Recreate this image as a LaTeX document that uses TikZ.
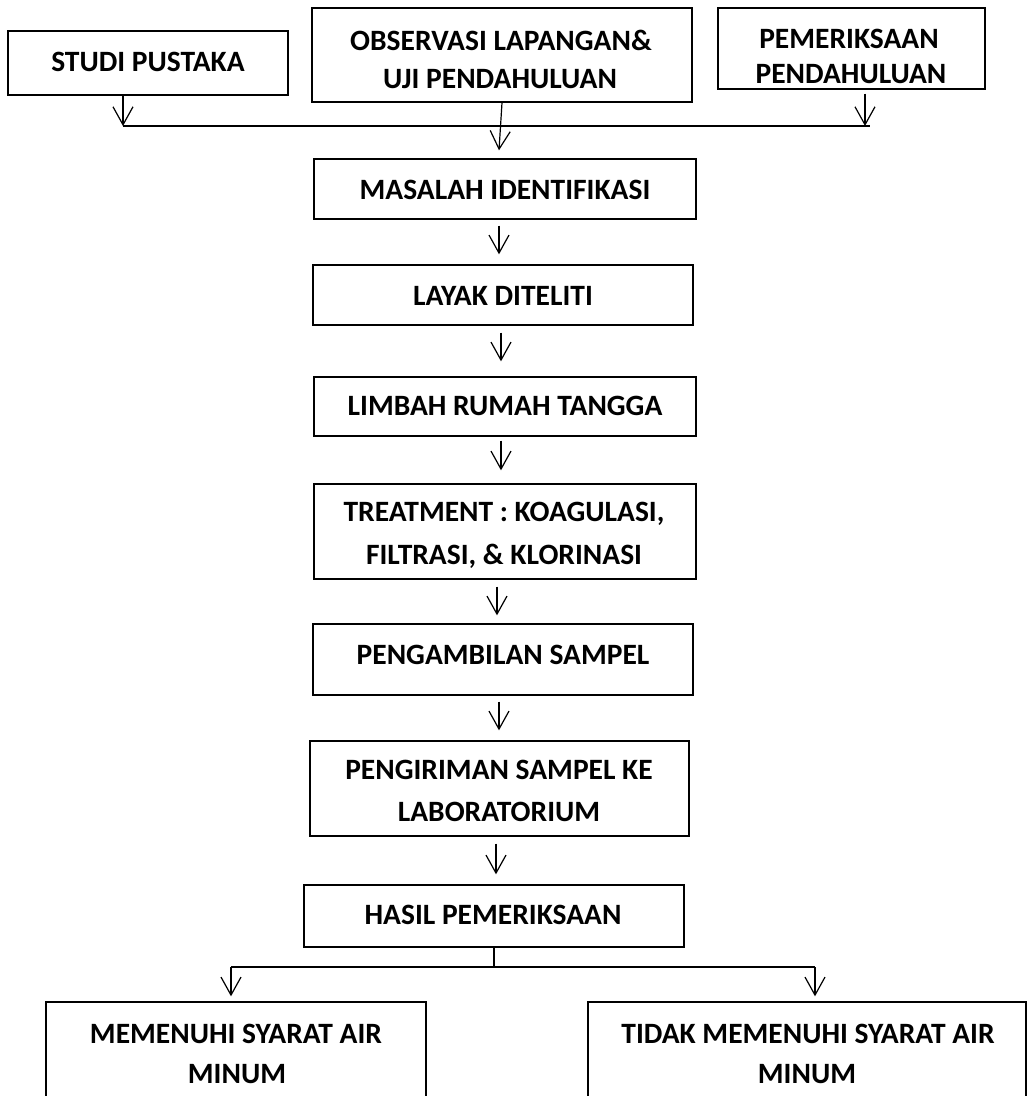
\documentclass[tikz,border=0pt]{standalone}
\usepackage{fontspec}
\setmainfont{Carlito}
\usetikzlibrary{arrows.meta}
\begin{document}
\begin{tikzpicture}[x=1pt,y=-1pt,
  box/.style={draw, line width=1.4pt, inner sep=0pt, rectangle},
  lbl/.style={anchor=base, inner sep=0pt, font=\fontsize{29.5}{35}\selectfont\bfseries},
  arr/.style={line width=1.2pt, -{Straight Barb[length=18pt,width=20pt,line width=1.2pt]}},
  bar/.style={line width=2.8pt},
  bar2/.style={line width=1.8pt}]
\useasboundingbox (0,0) rectangle (1033,1096);
\clip (0,0) rectangle (1033,1096);
\fill[white] (0,0) rectangle (1033,1096);
% boxes
\node[box, minimum width=280pt, minimum height=64pt] (studi) at (148,63) {};
\node[box, minimum width=380pt, minimum height=94pt] (obs) at (502,55) {};
\node[box, minimum width=267pt, minimum height=81pt] (pem) at (851.5,48.5) {};
\node[box, minimum width=382pt, minimum height=60pt] (masalah) at (505,189) {};
\node[box, minimum width=380pt, minimum height=60pt] (layak) at (503,295) {};
\node[box, minimum width=382pt, minimum height=59pt] (limbah) at (505,406.5) {};
\node[box, minimum width=382pt, minimum height=95pt] (treat) at (505,531.5) {};
\node[box, minimum width=380pt, minimum height=71pt] (ambil) at (503,659.5) {};
\node[box, minimum width=379pt, minimum height=95pt] (kirim) at (499.5,788.5) {};
\node[box, minimum width=380pt, minimum height=62pt] (hasil) at (494,916) {};
\node[box, minimum width=380pt, minimum height=108pt] (memenuhi) at (236,1056) {};
\node[box, minimum width=438pt, minimum height=108pt] (tidak) at (807,1056) {};
% texts
\node[lbl] (t1) at (148,71) {STUDI PUSTAKA};
\node[lbl] (t2a) at (501,50) {OBSERVASI LAPANGAN\&};
\node[lbl] (t2b) at (500,88) {UJI PENDAHULUAN};
\node[lbl] (t3a) at (849,48) {PEMERIKSAAN};
\node[lbl] (t3b) at (851,83) {PENDAHULUAN};
\node[lbl] (t4) at (505,199) {MASALAH IDENTIFIKASI};
\node[lbl] (t5) at (503,305) {LAYAK DITELITI};
\node[lbl] (t6) at (505,415) {LIMBAH RUMAH TANGGA};
\node[lbl] (t7a) at (504,521) {TREATMENT : KOAGULASI,};
\node[lbl] (t7b) at (504,564) {FILTRASI, \& KLORINASI};
\node[lbl] (t8) at (503,664) {PENGAMBILAN SAMPEL};
\node[lbl] (t9a) at (499,779) {PENGIRIMAN SAMPEL KE};
\node[lbl] (t9b) at (499,821) {LABORATORIUM};
\node[lbl] (t10) at (493,924) {HASIL PEMERIKSAAN};
\node[lbl] (t11a) at (236,1043) {MEMENUHI SYARAT AIR};
\node[lbl] (t11b) at (237,1083) {MINUM};
\node[lbl] (t12a) at (808,1043) {TIDAK MEMENUHI SYARAT AIR};
\node[lbl] (t12b) at (807,1083) {MINUM};
% top junction
\coordinate (jl) at (123,126);
\coordinate (jr) at (870,126);
\draw[bar] (jl) -- (jr);
\draw[arr] ([xshift=-25pt]studi.south) -- (jl);
\draw[arr] ([xshift=13.5pt,yshift=-4pt]pem.south) -- ([xshift=13.5pt]pem.south |- jr);
\draw[arr] (obs.south) -- ([xshift=-6pt,yshift=8pt]masalah.north);
% chain
\draw[arr] ([xshift=-6pt,yshift=-6pt]masalah.south) -- ([xshift=-4pt,yshift=10pt]layak.north);
\draw[arr] ([xshift=-2pt,yshift=-7pt]layak.south) -- ([xshift=-4pt,yshift=15pt]limbah.north);
\draw[arr] ([xshift=-4pt,yshift=-4pt]limbah.south) -- ([xshift=-4pt,yshift=13pt]treat.north);
\draw[arr] ([xshift=-8pt,yshift=-7pt]treat.south) -- ([xshift=-6pt,yshift=8pt]ambil.north);
\draw[arr] ([xshift=-4pt,yshift=-6pt]ambil.south) -- ([xshift=-0.5pt,yshift=10pt]kirim.north);
\draw[arr] ([xshift=-3.5pt,yshift=-7pt]kirim.south) -- ([xshift=2pt,yshift=10pt]hasil.north);
% bottom split
\coordinate (bl) at (231,967);
\coordinate (br) at (815,967);
\draw[line width=1.3pt] (hasil.south) -- (hasil.south |- bl);
\draw[bar2] (bl) -- (br);
\draw[arr] (bl) -- ([yshift=5pt]memenuhi.north -| bl);
\draw[arr] (br) -- ([yshift=5pt]tidak.north -| br);
\end{tikzpicture}
\end{document}
